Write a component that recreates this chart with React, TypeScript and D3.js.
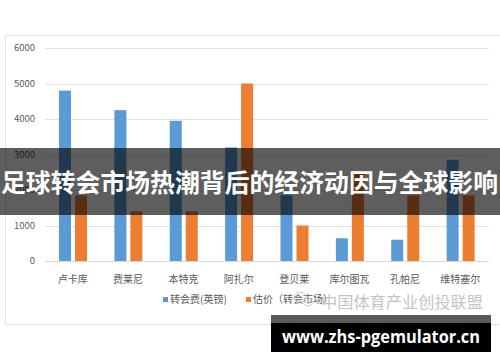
import React from "react";
import * as d3 from "d3";

const categories = ["卢卡库", "费莱尼", "本特克", "阿扎尔", "登贝莱", "库尔图瓦", "孔帕尼", "维特塞尔"];
const transferFee = [4800, 4250, 3950, 3200, 1850, 640, 600, 2850];
const valuation = [1850, 1400, 1400, 5000, 1000, 2500, 1850, 1850];
const yTicks = [0, 1000, 2000, 3000, 4000, 5000, 6000];
const seriesNames = ["转会费(英镑)", "估价（转会市场）"];
const seriesColors = ["#5b9bd5", "#ed7d31"];
const titleText = "足球转会市场热潮背后的经济动因与全球影响";
const sourceText = "中国体育产业创投联盟";
const urlText = "www.zhs-pgemulator.cn";

export default function App() {
  const W = 500, H = 362;
  const x = d3.scaleBand<string>().domain(categories).range([45, 488]);
  const xs = d3.scaleBand<string>().domain(seriesNames).range([14, 42]).paddingInner(0.25);
  const y = d3.scaleLinear().domain([0, 6000]).range([261, 48]);
  const values = [transferFee, valuation];
  const font = "'Noto Sans CJK SC', 'Noto Sans', sans-serif";

  return (
    <svg width={W} height={H} style={{ position: "fixed", left: 0, top: 0, background: "#fff" }} fontFamily={font}>
      <rect x={0} y={0} width={W} height={H} fill="#fff" />
      <rect x={5.5} y={35.5} width={520} height={289} fill="#fff" stroke="#e3e3e3" strokeWidth={1} />
      {yTicks.map((t) => (
        <g key={t}>
          {t > 0 && <line x1={45} x2={489} y1={Math.round(y(t)) + 0.5} y2={Math.round(y(t)) + 0.5} stroke="#e2e2e2" strokeWidth={1} />}
          <text x={35} y={y(t)} dy="0.35em" textAnchor="end" fontSize={9.5} fill="#595959">{t}</text>
        </g>
      ))}
      <line x1={45} x2={489} y1={261.5} y2={261.5} stroke="#d9d9d9" strokeWidth={1} />
      {categories.map((c, i) => (
        <g key={c} transform={`translate(${x(c)},0)`}>
          {values.map((vals, s) => (
            <rect key={s} x={xs(seriesNames[s])} y={y(vals[i])} width={xs.bandwidth()} height={y(0) - y(vals[i])} fill={seriesColors[s]} />
          ))}
          <text x={x.bandwidth() / 2} y={279.5} dy="0.35em" textAnchor="middle" fontSize={10} fill="#595959">{c}</text>
        </g>
      ))}
      {/* legend */}
      <rect x={163} y={297} width={5} height={5} fill={seriesColors[0]} />
      <text x={170} y={299.5} dy="0.35em" fontSize={10} fill="#595959">{seriesNames[0]}</text>
      <rect x={246} y={297} width={5} height={5} fill={seriesColors[1]} />
      <text x={253} y={299.5} dy="0.35em" fontSize={10} fill="#595959">{seriesNames[1]}</text>
      {/* watermark */}
      <g stroke="#c8c8c8" fill="none" strokeWidth={1}>
        <ellipse cx={300} cy={297} rx={6} ry={5} />
        <ellipse cx={308} cy={302} rx={5} ry={4} />
      </g>
      <text x={321} y={302} dy="0.35em" fontSize={16.2} fill="#c4c4c4" textLength={162} lengthAdjust="spacingAndGlyphs">{sourceText}</text>
      {/* title banner */}
      <rect x={0} y={148} width={W} height={67} fill="rgba(0,0,0,0.63)" />
      <text x={1} y={183} dy="0.35em" fontSize={25} fontWeight="bold" fill="#fff" textLength={497} lengthAdjust="spacingAndGlyphs">{titleText}</text>
      {/* url box */}
      <rect x={271} y={315} width={220} height={9} fill="#5a5a5a" />
      <rect x={271} y={323} width={220} height={29} fill="#000" />
      <text x={282} y={337} dy="0.35em" fontSize={18} fontWeight="bold" fill="#fff" fontFamily="'Open Sans', 'DejaVu Sans', sans-serif" textLength={198} lengthAdjust="spacingAndGlyphs">{urlText}</text>
    </svg>
  );
}
